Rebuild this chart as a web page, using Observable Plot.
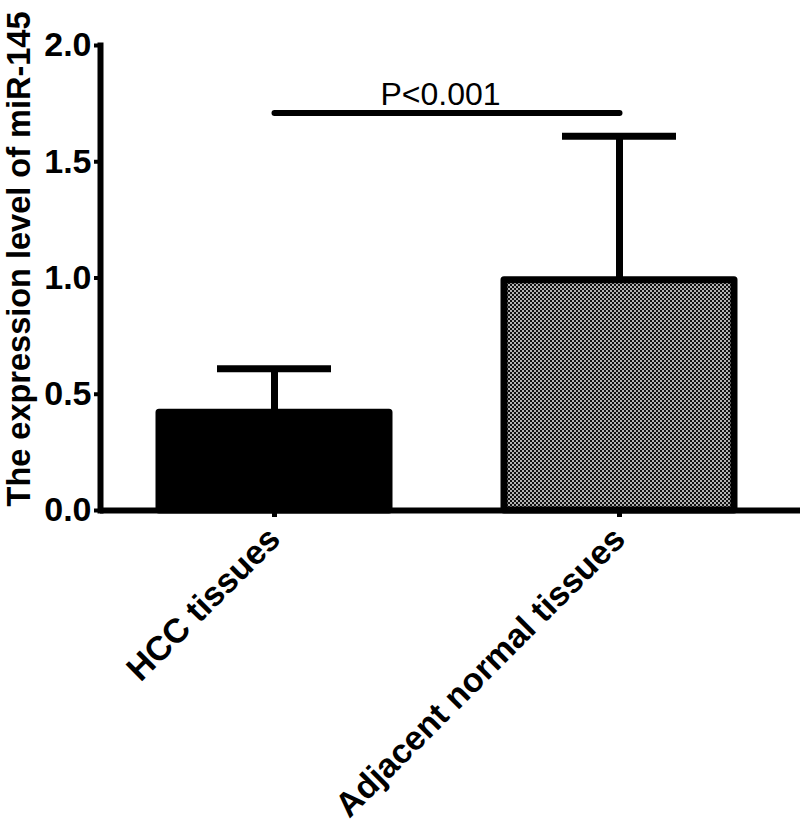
<!DOCTYPE html>
<html>
<head>
<meta charset="utf-8">
<script src="https://cdn.jsdelivr.net/npm/d3@7"></script>
<script src="https://cdn.jsdelivr.net/npm/@observablehq/plot@0.6"></script>
<style>
  html, body { margin: 0; padding: 0; background: white; }
</style>
</head>
<body>
<div id="chart"></div>
<script>
const categories = ["HCC tissues", "Adjacent normal tissues"];
const means = [0.42, 0.99];
const upperErrors = [0.61, 1.61];
const yTicks = [0, 0.5, 1.0, 1.5, 2.0];
const yLabel = "The expression level of miR-145";
const pLabel = "P<0.001";
const pLineY = 1.71;

const data = categories.map((c, i) => ({category: c, mean: means[i], upper: upperErrors[i]}));
const sigLine = [{x: categories[0], y: pLineY}, {x: categories[1], y: pLineY}];

const plot = Plot.plot({
  width: 800,
  height: 826,
  marginLeft: 100,
  marginRight: 0,
  marginTop: 45,
  marginBottom: 316,
  style: {fontFamily: "'Liberation Sans', Arial, sans-serif", fontWeight: "bold", background: "white", color: "black", overflow: "visible"},
  x: {domain: categories, range: [100, 794], paddingInner: 0.332, paddingOuter: 0.169},
  y: {domain: [0, 2]},
  marks: [
    Plot.barY(data.filter(d => d.category === categories[0]), {x: "category", y: "mean", fill: "black", stroke: "black", strokeWidth: 7, strokeLinejoin: "round"}),
    Plot.barY(data.filter(d => d.category === categories[1]), {x: "category", y: "mean", fill: "url(#checker)", stroke: "black", strokeWidth: 7, strokeLinejoin: "round"}),
    Plot.ruleX(data, {x: "category", y1: "mean", y2: "upper", strokeWidth: 7}),
    Plot.tickY(data, {x: "category", y: "upper", strokeWidth: 7, insetLeft: 58, insetRight: 58}),
    Plot.ruleY([0], {strokeWidth: 6}),
    Plot.frame({anchor: "left", strokeWidth: 6}),
    Plot.axisY({ticks: yTicks, tickFormat: d3.format(".1f"), tickSize: 6, tickPadding: 3, fontSize: 34, strokeWidth: 4, label: null}),
    Plot.axisX({tickRotate: -45, fontSize: 34, tickSize: 7, tickPadding: 16, strokeWidth: 5, label: null}),
    Plot.line(sigLine, {x: "x", y: "y", strokeWidth: 6}),
    Plot.text([pLabel], {x: () => categories[0], y: () => pLineY, dx: 166, dy: -8, lineAnchor: "bottom", fontSize: 32, fontWeight: "normal"}),
    Plot.text([yLabel], {frameAnchor: "left", rotate: -90, textAnchor: "middle", dx: -81, dy: -19, fontSize: 32.5, fontWeight: "bold"})
  ]
});

const svg = d3.select(plot);
const pat = svg.insert("defs", ":first-child").append("pattern")
  .attr("id", "checker").attr("width", 4).attr("height", 4).attr("patternUnits", "userSpaceOnUse");
pat.append("rect").attr("width", 4).attr("height", 4).attr("fill", "#111");
pat.append("rect").attr("x", 0).attr("y", 0).attr("width", 2).attr("height", 2).attr("fill", "#b4b4b4");
pat.append("rect").attr("x", 2).attr("y", 2).attr("width", 2).attr("height", 2).attr("fill", "#b4b4b4");

document.getElementById("chart").appendChild(plot);
</script>
</body>
</html>
